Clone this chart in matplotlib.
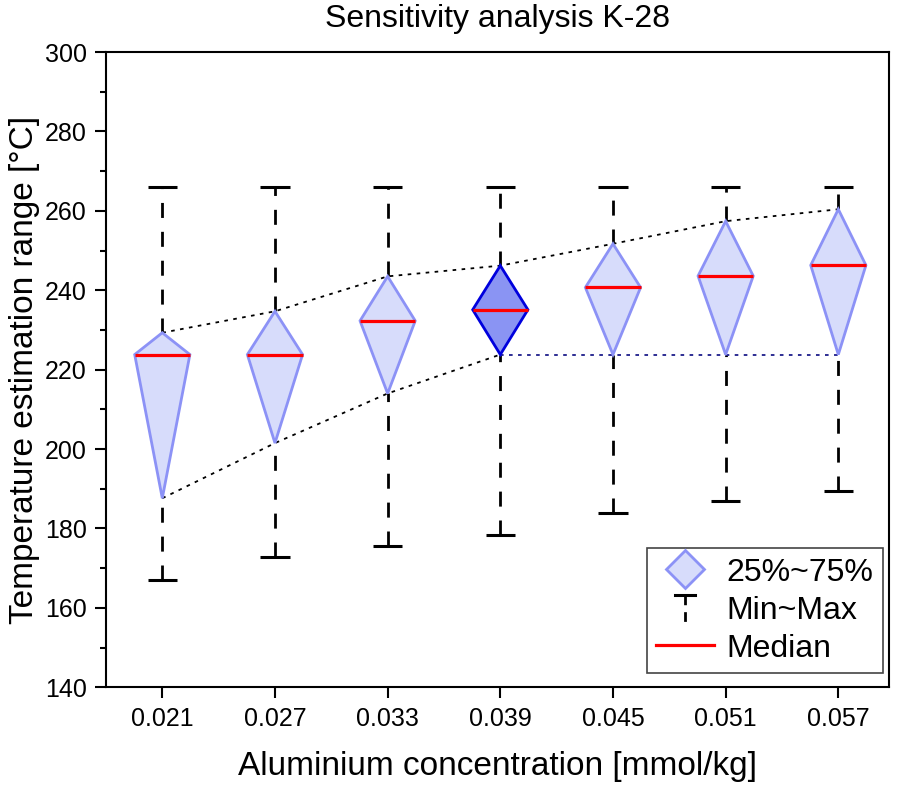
import numpy as np
import matplotlib
matplotlib.use("Agg")
import matplotlib.pyplot as plt
from matplotlib.lines import Line2D
from matplotlib.legend_handler import HandlerBase

plt.rcParams['font.family'] = ['Liberation Sans', 'DejaVu Sans']

# data
conc_labels = ['0.021', '0.027', '0.033', '0.039', '0.045', '0.051', '0.057']
t_max = [266, 266, 266, 266, 266, 266, 266]
t_min = [167.0, 172.8, 175.6, 178.4, 184.0, 186.9, 189.5]
q75 = [229.3, 234.7, 243.5, 246.2, 251.7, 257.4, 260.4]
median = [223.8, 223.8, 232.3, 235.1, 240.7, 243.6, 246.3]
q25 = [187.6, 201.5, 214.0, 223.8, 223.8, 223.8, 223.8]
highlight = 3  # 0.039 is the reference case

FILL = '#d7dcfb'
EDGE = '#8c92f6'
FILL_HI = '#8a94f3'
EDGE_HI = '#0000dd'


class HandlerMinMax(HandlerBase):
    def create_artists(self, legend, orig_handle, xdescent, ydescent,
                       width, height, fontsize, trans):
        cx = width / 2 - xdescent
        top = height * 1.05 - ydescent
        bot = -height * 0.25 - ydescent
        cap = Line2D([cx - 7, cx + 7], [top, top], color='black', lw=2.2,
                     transform=trans)
        stem = Line2D([cx, cx], [top, bot], color='black', lw=2.0,
                      dashes=(3.5, 2.5), transform=trans)
        return [cap, stem]


fig = plt.figure(figsize=(8.98, 7.89), dpi=100)
ax = fig.add_axes([0.118, 0.129, 0.872, 0.805])

x = np.arange(1, len(conc_labels) + 1)
hw = 0.245
cw = 0.13

# whiskers and caps
ax.vlines(x, q75, t_max, colors='black', lw=2.0, linestyles=(0, (5.4, 5)), zorder=2)
ax.vlines(x, t_min, q25, colors='black', lw=2.0, linestyles=(0, (5.4, 5)), zorder=2)
ax.hlines(t_max, x - cw, x + cw, colors='black', lw=2.2, zorder=2)
ax.hlines(t_min, x - cw, x + cw, colors='black', lw=2.2, zorder=2)

# dotted envelope through the quartiles
ax.plot(x, q75, color='black', lw=1.3, dashes=(2, 3), zorder=3)
ax.plot(x[:highlight + 1], q25[:highlight + 1], color='black', lw=1.3, dashes=(2, 3), zorder=3)
ax.plot(x[highlight:], q25[highlight:], color='#1c1c8a', lw=1.3, dashes=(2, 3), zorder=3)

# diamonds
for i, xi in enumerate(x):
    fc, ec, lw = (FILL_HI, EDGE_HI, 2.0) if i == highlight else (FILL, EDGE, 2.0)
    ax.fill([xi, xi + hw, xi, xi - hw], [q75[i], median[i], q25[i], median[i]],
            facecolor=fc, edgecolor=ec, lw=lw, zorder=4, joinstyle='miter')
    ax.plot([xi - hw, xi + hw], [median[i], median[i]], color='red', lw=2.3,
            solid_capstyle='butt', zorder=5)

ax.set_xlim(0.5, 7.45)
ax.set_ylim(140, 300)
ax.set_xticks(x)
ax.set_xticklabels(conc_labels)
ax.set_yticks(np.arange(140, 301, 20))
ax.set_yticks(np.arange(150, 300, 20), minor=True)
ax.tick_params(axis='both', which='major', direction='out', length=8, width=1.5,
               labelsize=18, pad=6)
ax.tick_params(axis='y', which='minor', direction='out', length=4, width=1.5)
ax.tick_params(top=False, right=False)
for s in ax.spines.values():
    s.set_linewidth(1.5)

ax.set_title('Sensitivity analysis K-28', fontsize=23, pad=18)
ax.set_xlabel('Aluminium concentration [mmol/kg]', fontsize=24, labelpad=15)
ax.set_ylabel('Temperature estimation range [°C]', fontsize=24, labelpad=3)

h_box = Line2D([], [], marker='D', ms=19, markerfacecolor=FILL, markeredgecolor=EDGE,
               markeredgewidth=2, linestyle='none')
h_mm = object()
h_med = Line2D([], [], color='red', lw=2.3)
leg = ax.legend([h_box, h_mm, h_med], ['25%~75%', 'Min~Max', 'Median'],
                handler_map={object: HandlerMinMax()},
                loc='lower right', bbox_to_anchor=(1 - 6 / 783, 14 / 635),
                fontsize=23, fancybox=False, framealpha=1,
                edgecolor='#444444', handlelength=1.8, handletextpad=0.4,
                labelspacing=0.25, borderpad=0.3, borderaxespad=0)
leg.get_frame().set_linewidth(1.2)

fig.savefig('out.png', dpi=100)
